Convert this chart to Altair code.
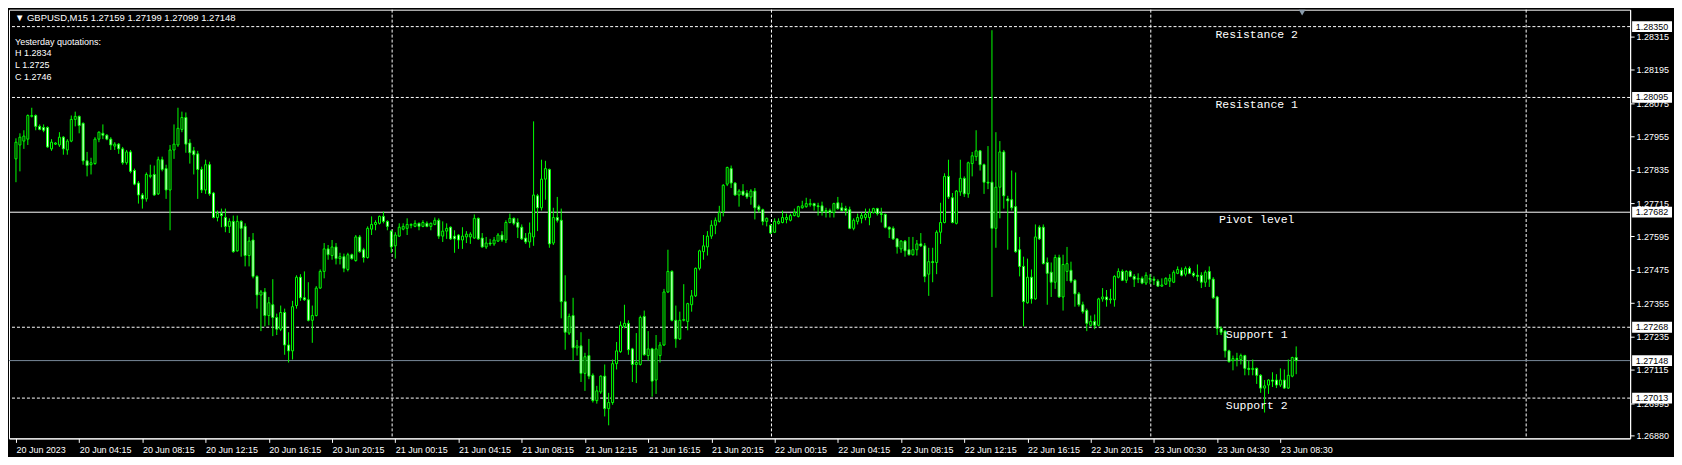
import json
import altair as alt
import pandas as pd

# ---------------- data (GBPUSD M15 candles) ----------------
OPEN = [
    1.27874, 1.27924, 1.27938, 1.27945, 1.28027, 1.28030, 1.27991, 1.27987, 1.27987, 1.27910,
    1.27927, 1.27924, 1.27952, 1.27906, 1.27938, 1.28016, 1.28027, 1.28002, 1.27867, 1.27853,
    1.27857, 1.27945, 1.27966, 1.27959, 1.27945, 1.27920, 1.27927, 1.27910, 1.27860, 1.27899,
    1.27832, 1.27787, 1.27744, 1.27730, 1.27811, 1.27818, 1.27748, 1.27871, 1.27839, 1.27762,
    1.27906, 1.27924, 1.27980, 1.28023, 1.27931, 1.27903, 1.27892, 1.27836, 1.27762, 1.27853,
    1.27751, 1.27663, 1.27677, 1.27663, 1.27631, 1.27649, 1.27543, 1.27649, 1.27631, 1.27526,
    1.27582, 1.27451, 1.27384, 1.27395, 1.27310, 1.27349, 1.27303, 1.27261, 1.27321, 1.27204,
    1.27183, 1.27346, 1.27448, 1.27374, 1.27367, 1.27293, 1.27310, 1.27409, 1.27469, 1.27550,
    1.27526, 1.27557, 1.27515, 1.27522, 1.27476, 1.27529, 1.27508, 1.27593, 1.27547, 1.27519,
    1.27621, 1.27638, 1.27642, 1.27667, 1.27649, 1.27614, 1.27561, 1.27596, 1.27621, 1.27624,
    1.27635, 1.27631, 1.27642, 1.27631, 1.27642, 1.27631, 1.27638, 1.27653, 1.27596, 1.27614,
    1.27628, 1.27596, 1.27600, 1.27582, 1.27593, 1.27593, 1.27589, 1.27660, 1.27589, 1.27557,
    1.27571, 1.27568, 1.27578, 1.27600, 1.27582, 1.27645, 1.27660, 1.27645, 1.27628, 1.27589,
    1.27575, 1.27593, 1.27741, 1.27698, 1.27801, 1.27836, 1.27571, 1.27663, 1.27653, 1.27360,
    1.27247, 1.27310, 1.27194, 1.27201, 1.27102, 1.27166, 1.27095, 1.27004, 1.27035, 1.27092,
    1.26975, 1.26997, 1.27137, 1.27180, 1.27271, 1.27282, 1.27190, 1.27134, 1.27134, 1.27307,
    1.27166, 1.27190, 1.27078, 1.27166, 1.27204, 1.27395, 1.27469, 1.27293, 1.27226, 1.27293,
    1.27289, 1.27349, 1.27381, 1.27480, 1.27540, 1.27557, 1.27596, 1.27635, 1.27649, 1.27684,
    1.27783, 1.27839, 1.27787, 1.27744, 1.27758, 1.27751, 1.27737, 1.27758, 1.27702, 1.27691,
    1.27649, 1.27635, 1.27610, 1.27642, 1.27645, 1.27656, 1.27653, 1.27670, 1.27667, 1.27698,
    1.27702, 1.27709, 1.27713, 1.27705, 1.27705, 1.27684, 1.27688, 1.27681, 1.27716, 1.27698,
    1.27695, 1.27691, 1.27624, 1.27649, 1.27660, 1.27663, 1.27663, 1.27681, 1.27695, 1.27677,
    1.27674, 1.27628, 1.27624, 1.27586, 1.27550, 1.27578, 1.27547, 1.27529, 1.27547, 1.27568,
    1.27561, 1.27459, 1.27504, 1.27501, 1.27610, 1.27645, 1.27811, 1.27734, 1.27642, 1.27755,
    1.27804, 1.27748, 1.27857, 1.27882, 1.27903, 1.27853, 1.27790, 1.27790, 1.27624, 1.27772,
    1.27899, 1.27730, 1.27727, 1.27702, 1.27547, 1.27487, 1.27356, 1.27448, 1.27370, 1.27628,
    1.27628, 1.27501, 1.27466, 1.27430, 1.27519, 1.27377, 1.27469, 1.27473, 1.27437, 1.27388,
    1.27349, 1.27328, 1.27275, 1.27289, 1.27275, 1.27370, 1.27377, 1.27367, 1.27367, 1.27448,
    1.27469, 1.27437, 1.27469, 1.27451, 1.27441, 1.27444, 1.27427, 1.27444, 1.27441, 1.27434,
    1.27416, 1.27423, 1.27434, 1.27430, 1.27462, 1.27473, 1.27459, 1.27480, 1.27462, 1.27455,
    1.27455, 1.27430, 1.27469, 1.27441, 1.27377, 1.27264, 1.27254, 1.27183, 1.27148, 1.27155,
    1.27152, 1.27166, 1.27120, 1.27116, 1.27120, 1.27095, 1.27049, 1.27060, 1.27078, 1.27078,
    1.27060, 1.27078, 1.27049, 1.27092, 1.27159,
]
HIGH = [
    1.27948, 1.27966, 1.27977, 1.28034, 1.28058, 1.28034, 1.27998, 1.27998, 1.27991, 1.27945,
    1.27934, 1.27970, 1.27956, 1.27945, 1.28030, 1.28044, 1.28030, 1.28005, 1.27899, 1.27878,
    1.27952, 1.27973, 1.27998, 1.27963, 1.27952, 1.27934, 1.27931, 1.27917, 1.27906, 1.27906,
    1.27839, 1.27794, 1.27751, 1.27825, 1.27853, 1.27850, 1.27882, 1.27882, 1.27853, 1.27924,
    1.27998, 1.28058, 1.28044, 1.28041, 1.27945, 1.27917, 1.27903, 1.27846, 1.27871, 1.27864,
    1.27755, 1.27688, 1.27695, 1.27695, 1.27660, 1.27670, 1.27670, 1.27653, 1.27642, 1.27593,
    1.27607, 1.27455, 1.27402, 1.27409, 1.27377, 1.27441, 1.27317, 1.27346, 1.27335, 1.27250,
    1.27363, 1.27455, 1.27459, 1.27469, 1.27430, 1.27346, 1.27416, 1.27476, 1.27571, 1.27564,
    1.27582, 1.27571, 1.27536, 1.27533, 1.27536, 1.27533, 1.27600, 1.27600, 1.27554, 1.27631,
    1.27667, 1.27653, 1.27670, 1.27684, 1.27653, 1.27617, 1.27610, 1.27642, 1.27642, 1.27660,
    1.27642, 1.27653, 1.27645, 1.27653, 1.27649, 1.27645, 1.27663, 1.27660, 1.27649, 1.27642,
    1.27631, 1.27617, 1.27603, 1.27628, 1.27614, 1.27610, 1.27674, 1.27663, 1.27607, 1.27593,
    1.27586, 1.27593, 1.27607, 1.27614, 1.27653, 1.27677, 1.27663, 1.27660, 1.27638, 1.27607,
    1.27645, 1.28009, 1.27748, 1.27871, 1.27867, 1.27839, 1.27698, 1.27737, 1.27695, 1.27455,
    1.27317, 1.27374, 1.27222, 1.27250, 1.27176, 1.27226, 1.27102, 1.27057, 1.27095, 1.27134,
    1.27032, 1.27152, 1.27215, 1.27289, 1.27349, 1.27293, 1.27194, 1.27247, 1.27310, 1.27328,
    1.27254, 1.27194, 1.27240, 1.27215, 1.27406, 1.27547, 1.27473, 1.27346, 1.27324, 1.27423,
    1.27356, 1.27402, 1.27483, 1.27547, 1.27600, 1.27614, 1.27653, 1.27663, 1.27705, 1.27783,
    1.27846, 1.27850, 1.27790, 1.27765, 1.27783, 1.27762, 1.27765, 1.27769, 1.27709, 1.27695,
    1.27663, 1.27638, 1.27660, 1.27660, 1.27688, 1.27677, 1.27677, 1.27695, 1.27705, 1.27723,
    1.27734, 1.27730, 1.27716, 1.27716, 1.27720, 1.27698, 1.27695, 1.27716, 1.27737, 1.27716,
    1.27705, 1.27702, 1.27660, 1.27677, 1.27681, 1.27695, 1.27695, 1.27698, 1.27698, 1.27698,
    1.27677, 1.27631, 1.27631, 1.27589, 1.27582, 1.27582, 1.27593, 1.27593, 1.27582, 1.27607,
    1.27571, 1.27554, 1.27554, 1.27617, 1.27716, 1.27822, 1.27871, 1.27751, 1.27762, 1.27871,
    1.27811, 1.27864, 1.27899, 1.27977, 1.27906, 1.27857, 1.27920, 1.28337, 1.27970, 1.27938,
    1.27906, 1.27741, 1.27832, 1.27825, 1.27593, 1.27522, 1.27515, 1.27476, 1.27638, 1.27635,
    1.27638, 1.27519, 1.27501, 1.27529, 1.27529, 1.27529, 1.27557, 1.27504, 1.27441, 1.27395,
    1.27360, 1.27335, 1.27310, 1.27314, 1.27374, 1.27409, 1.27402, 1.27406, 1.27455, 1.27480,
    1.27476, 1.27473, 1.27473, 1.27459, 1.27462, 1.27451, 1.27466, 1.27459, 1.27451, 1.27441,
    1.27444, 1.27448, 1.27459, 1.27473, 1.27487, 1.27483, 1.27487, 1.27487, 1.27469, 1.27494,
    1.27466, 1.27473, 1.27487, 1.27448, 1.27381, 1.27271, 1.27257, 1.27187, 1.27166, 1.27176,
    1.27173, 1.27169, 1.27148, 1.27152, 1.27123, 1.27099, 1.27078, 1.27081, 1.27106, 1.27099,
    1.27120, 1.27116, 1.27152, 1.27162, 1.27199,
]
LOW = [
    1.27790, 1.27829, 1.27910, 1.27924, 1.28023, 1.27977, 1.27977, 1.27970, 1.27913, 1.27903,
    1.27924, 1.27917, 1.27889, 1.27889, 1.27934, 1.27991, 1.27966, 1.27853, 1.27811, 1.27818,
    1.27853, 1.27934, 1.27945, 1.27941, 1.27906, 1.27906, 1.27892, 1.27853, 1.27853, 1.27822,
    1.27779, 1.27713, 1.27695, 1.27720, 1.27804, 1.27741, 1.27744, 1.27829, 1.27730, 1.27617,
    1.27874, 1.27917, 1.27970, 1.27896, 1.27857, 1.27818, 1.27730, 1.27751, 1.27748, 1.27741,
    1.27660, 1.27649, 1.27628, 1.27610, 1.27607, 1.27536, 1.27540, 1.27522, 1.27487, 1.27487,
    1.27444, 1.27335, 1.27254, 1.27271, 1.27275, 1.27236, 1.27240, 1.27254, 1.27169, 1.27141,
    1.27152, 1.27335, 1.27363, 1.27363, 1.27289, 1.27212, 1.27307, 1.27406, 1.27444, 1.27511,
    1.27511, 1.27494, 1.27494, 1.27466, 1.27469, 1.27511, 1.27504, 1.27536, 1.27501, 1.27515,
    1.27600, 1.27617, 1.27638, 1.27642, 1.27617, 1.27536, 1.27515, 1.27593, 1.27617, 1.27600,
    1.27624, 1.27628, 1.27617, 1.27628, 1.27628, 1.27617, 1.27635, 1.27586, 1.27575, 1.27586,
    1.27582, 1.27536, 1.27550, 1.27550, 1.27571, 1.27568, 1.27586, 1.27582, 1.27554, 1.27550,
    1.27561, 1.27561, 1.27575, 1.27575, 1.27571, 1.27642, 1.27635, 1.27589, 1.27582, 1.27568,
    1.27554, 1.27561, 1.27614, 1.27688, 1.27727, 1.27554, 1.27564, 1.27645, 1.27300, 1.27187,
    1.27240, 1.27148, 1.27166, 1.27071, 1.27039, 1.27081, 1.26997, 1.26993, 1.27028, 1.26947,
    1.26915, 1.26989, 1.27116, 1.27176, 1.27264, 1.27169, 1.27071, 1.27067, 1.27130, 1.27166,
    1.27148, 1.27018, 1.27028, 1.27141, 1.27201, 1.27391, 1.27289, 1.27194, 1.27222, 1.27289,
    1.27257, 1.27324, 1.27377, 1.27473, 1.27511, 1.27526, 1.27586, 1.27603, 1.27645, 1.27667,
    1.27776, 1.27769, 1.27741, 1.27702, 1.27741, 1.27730, 1.27709, 1.27656, 1.27681, 1.27635,
    1.27631, 1.27603, 1.27607, 1.27638, 1.27642, 1.27642, 1.27649, 1.27667, 1.27663, 1.27695,
    1.27698, 1.27702, 1.27688, 1.27670, 1.27670, 1.27663, 1.27663, 1.27663, 1.27691, 1.27684,
    1.27670, 1.27621, 1.27617, 1.27638, 1.27642, 1.27653, 1.27635, 1.27677, 1.27670, 1.27645,
    1.27624, 1.27589, 1.27582, 1.27533, 1.27536, 1.27522, 1.27526, 1.27526, 1.27526, 1.27557,
    1.27430, 1.27381, 1.27430, 1.27459, 1.27568, 1.27642, 1.27730, 1.27642, 1.27638, 1.27741,
    1.27737, 1.27734, 1.27811, 1.27867, 1.27832, 1.27748, 1.27765, 1.27377, 1.27554, 1.27660,
    1.27695, 1.27547, 1.27688, 1.27536, 1.27451, 1.27271, 1.27353, 1.27353, 1.27367, 1.27582,
    1.27494, 1.27349, 1.27377, 1.27406, 1.27374, 1.27328, 1.27434, 1.27427, 1.27342, 1.27342,
    1.27317, 1.27254, 1.27271, 1.27261, 1.27271, 1.27360, 1.27342, 1.27353, 1.27342, 1.27444,
    1.27434, 1.27427, 1.27448, 1.27413, 1.27427, 1.27423, 1.27420, 1.27423, 1.27420, 1.27413,
    1.27413, 1.27420, 1.27413, 1.27427, 1.27459, 1.27451, 1.27451, 1.27459, 1.27448, 1.27434,
    1.27409, 1.27413, 1.27413, 1.27370, 1.27240, 1.27240, 1.27159, 1.27141, 1.27113, 1.27127,
    1.27134, 1.27095, 1.27095, 1.27095, 1.27064, 1.27032, 1.26961, 1.27028, 1.27053, 1.27049,
    1.27053, 1.27046, 1.27046, 1.27088, 1.27099,
]
CLOSE = [
    1.27934, 1.27952, 1.27956, 1.28030, 1.28030, 1.27991, 1.27980, 1.27977, 1.27917, 1.27934,
    1.27931, 1.27952, 1.27910, 1.27938, 1.28016, 1.28027, 1.27994, 1.27867, 1.27850, 1.27860,
    1.27945, 1.27970, 1.27959, 1.27945, 1.27924, 1.27927, 1.27910, 1.27860, 1.27899, 1.27829,
    1.27783, 1.27744, 1.27730, 1.27818, 1.27815, 1.27744, 1.27871, 1.27836, 1.27762, 1.27906,
    1.27927, 1.27984, 1.28023, 1.27927, 1.27896, 1.27889, 1.27836, 1.27762, 1.27853, 1.27748,
    1.27663, 1.27677, 1.27670, 1.27631, 1.27649, 1.27540, 1.27649, 1.27624, 1.27526, 1.27578,
    1.27451, 1.27384, 1.27395, 1.27310, 1.27356, 1.27303, 1.27261, 1.27321, 1.27204, 1.27183,
    1.27342, 1.27448, 1.27374, 1.27367, 1.27293, 1.27310, 1.27409, 1.27469, 1.27550, 1.27529,
    1.27557, 1.27515, 1.27522, 1.27480, 1.27529, 1.27515, 1.27593, 1.27540, 1.27519, 1.27624,
    1.27638, 1.27645, 1.27667, 1.27649, 1.27631, 1.27557, 1.27600, 1.27628, 1.27631, 1.27638,
    1.27638, 1.27642, 1.27631, 1.27645, 1.27631, 1.27642, 1.27653, 1.27596, 1.27614, 1.27624,
    1.27586, 1.27586, 1.27582, 1.27596, 1.27603, 1.27603, 1.27660, 1.27586, 1.27557, 1.27571,
    1.27568, 1.27582, 1.27600, 1.27582, 1.27645, 1.27660, 1.27642, 1.27628, 1.27586, 1.27575,
    1.27607, 1.27744, 1.27698, 1.27801, 1.27839, 1.27568, 1.27663, 1.27653, 1.27360, 1.27250,
    1.27307, 1.27194, 1.27201, 1.27102, 1.27162, 1.27092, 1.27004, 1.27039, 1.27092, 1.26975,
    1.26997, 1.27137, 1.27183, 1.27275, 1.27282, 1.27187, 1.27134, 1.27141, 1.27303, 1.27169,
    1.27190, 1.27074, 1.27190, 1.27204, 1.27395, 1.27469, 1.27293, 1.27226, 1.27293, 1.27296,
    1.27353, 1.27381, 1.27480, 1.27543, 1.27561, 1.27596, 1.27635, 1.27653, 1.27681, 1.27779,
    1.27843, 1.27787, 1.27744, 1.27758, 1.27744, 1.27737, 1.27758, 1.27698, 1.27691, 1.27649,
    1.27660, 1.27607, 1.27649, 1.27649, 1.27663, 1.27663, 1.27670, 1.27681, 1.27702, 1.27705,
    1.27713, 1.27713, 1.27705, 1.27702, 1.27684, 1.27688, 1.27681, 1.27713, 1.27695, 1.27688,
    1.27688, 1.27624, 1.27653, 1.27663, 1.27670, 1.27674, 1.27681, 1.27695, 1.27677, 1.27674,
    1.27628, 1.27621, 1.27586, 1.27557, 1.27578, 1.27543, 1.27529, 1.27547, 1.27568, 1.27561,
    1.27451, 1.27504, 1.27501, 1.27610, 1.27645, 1.27811, 1.27737, 1.27645, 1.27758, 1.27804,
    1.27748, 1.27860, 1.27885, 1.27903, 1.27853, 1.27790, 1.27787, 1.27624, 1.27772, 1.27899,
    1.27741, 1.27723, 1.27698, 1.27540, 1.27487, 1.27360, 1.27448, 1.27370, 1.27593, 1.27586,
    1.27497, 1.27462, 1.27430, 1.27519, 1.27377, 1.27494, 1.27497, 1.27434, 1.27388, 1.27349,
    1.27324, 1.27282, 1.27289, 1.27275, 1.27370, 1.27377, 1.27367, 1.27370, 1.27451, 1.27469,
    1.27437, 1.27469, 1.27451, 1.27441, 1.27444, 1.27427, 1.27455, 1.27441, 1.27437, 1.27416,
    1.27420, 1.27444, 1.27444, 1.27466, 1.27476, 1.27455, 1.27480, 1.27462, 1.27455, 1.27451,
    1.27430, 1.27466, 1.27441, 1.27374, 1.27264, 1.27250, 1.27183, 1.27144, 1.27155, 1.27152,
    1.27166, 1.27120, 1.27116, 1.27120, 1.27095, 1.27049, 1.27057, 1.27078, 1.27074, 1.27060,
    1.27078, 1.27049, 1.27095, 1.27159, 1.27148,
]

# time axis: bar index of each label and the label text
TICK_BARS = [0, 16, 32, 48, 64, 80, 96, 112, 128, 144, 160, 176, 192, 208, 224, 240,
             256, 272, 288, 304, 320]
TICK_LABELS = ["20 Jun 2023", "20 Jun 04:15", "20 Jun 08:15", "20 Jun 12:15", "20 Jun 16:15",
               "20 Jun 20:15", "21 Jun 00:15", "21 Jun 04:15", "21 Jun 08:15", "21 Jun 12:15",
               "21 Jun 16:15", "21 Jun 20:15", "22 Jun 00:15", "22 Jun 04:15", "22 Jun 08:15",
               "22 Jun 12:15", "22 Jun 16:15", "22 Jun 20:15", "23 Jun 00:30", "23 Jun 04:30",
               "23 Jun 08:30"]
DAY_SEPARATORS = [95.2, 191.2, 287.2, 382.2]

# price axis labels
PRICE_TICKS = [1.28315, 1.28195, 1.28075, 1.27955, 1.27835, 1.27715, 1.27595, 1.27475,
               1.27355, 1.27235, 1.27115, 1.26995, 1.26880]

# pivot levels
LEVEL_NAMES = ["Resistance 2", "Resistance 1", "Pivot level", "Support 1", "Support 2"]
LEVEL_PRICES = [1.28350, 1.28095, 1.27682, 1.27268, 1.27013]
LEVEL_DASHED = [True, True, False, True, True]
LEVEL_LABEL_BAR = 314
BID = 1.27148
SHIFT_BAR = 325.5

HEADER = "▼ GBPUSD,M15  1.27159 1.27199 1.27099 1.27148"
INFO_LINES = ["Yesterday quotations:", "H 1.2834", "L 1.2725", "C 1.2746"]

X_DOMAIN = [-0.5, 407.25]
Y_DOMAIN = [1.26868, 1.28411]

# ---------------- build ----------------
assert len(OPEN) == len(HIGH) == len(LOW) == len(CLOSE)

W, H = 1626, 430
LIME = "#00ff00"
FONT = "Liberation Sans"

candles = pd.DataFrame({
    "bar": list(range(len(OPEN))),
    "open": OPEN, "high": HIGH, "low": LOW, "close": CLOSE,
})
candles["body"] = ["white" if c < o else "black" for o, c in zip(OPEN, CLOSE)]

levels = pd.DataFrame({
    "name": LEVEL_NAMES, "price": LEVEL_PRICES, "dashed": LEVEL_DASHED,
    "bar": [LEVEL_LABEL_BAR] * len(LEVEL_NAMES),
})
boxes = pd.DataFrame({"price": LEVEL_PRICES + [BID]})
seps = pd.DataFrame({"bar": DAY_SEPARATORS})

xscale = alt.Scale(domain=X_DOMAIN, nice=False, zero=False)
yscale = alt.Scale(domain=Y_DOMAIN, nice=False, zero=False)

label_expr = f"{json.dumps(TICK_LABELS)}[indexof({json.dumps(TICK_BARS)}, datum.value)]"

X_AXIS = alt.Axis(values=TICK_BARS, labelExpr=label_expr, orient="bottom", labelAlign="left",
                  labelBaseline="top", labelPadding=3, labelFlush=False, labelOverlap=False,
                  labelBound=False, tickSize=4, title=None)
Y_AXIS = alt.Axis(values=PRICE_TICKS, format=".5f", orient="right", labelAlign="left",
                  labelBaseline="middle", labelPadding=2, labelFlush=False, labelOverlap=False,
                  tickSize=4, title=None)


def xe(field="bar"):
    return alt.X(f"{field}:Q", scale=xscale, axis=X_AXIS, title=None)


def ye(field):
    return alt.Y(f"{field}:Q", scale=yscale, axis=Y_AXIS, title=None)


seps_layer = alt.Chart(seps).mark_rule(color="white", strokeDash=[3, 2], strokeWidth=1).encode(
    x=xe())

dashed = alt.Chart(levels).transform_filter("datum.dashed").mark_rule(
    color="white", strokeDash=[3, 2], strokeWidth=1).encode(y=ye("price"))
solid = alt.Chart(levels).transform_filter("!datum.dashed").mark_rule(
    color="white", strokeWidth=1).encode(y=ye("price"))
bid = alt.Chart(pd.DataFrame({"price": [BID]})).mark_rule(color="#778899", strokeWidth=1).encode(
    y=ye("price"))

wicks = alt.Chart(candles).mark_rule(color=LIME, strokeWidth=1).encode(
    x=xe(), y=ye("low"), y2="high:Q")
bodies = alt.Chart(candles).mark_bar(size=2, stroke=LIME, strokeWidth=1).encode(
    x=xe(), y=ye("open"), y2="close:Q", fill=alt.Fill("body:N", scale=None))

level_text = alt.Chart(levels).mark_text(
    font="Liberation Mono", fontSize=11.5, color="white", align="center", baseline="top", dy=2
).encode(x=xe(), y=ye("price"), text="name:N")

RECT = "M-1,-0.27L1,-0.27L1,0.27L-1,0.27Z"
box_bg = alt.Chart(boxes).mark_point(shape=RECT, filled=True, fill="white", opacity=1,
                                     strokeWidth=0, size=1600).encode(
    x=alt.value(W + 22), y=ye("price"))
box_txt = alt.Chart(boxes).mark_text(font=FONT, fontSize=9, color="black", align="center",
                                     baseline="middle").encode(
    x=alt.value(W + 22), y=ye("price"), text=alt.Text("price:Q", format=".5f"))

shift = alt.Chart(pd.DataFrame({"bar": [SHIFT_BAR]})).mark_point(
    shape="triangle-down", filled=True, color="#8a9bab", size=45, opacity=1).encode(
    x=xe(), y=alt.value(3))

header = alt.Chart(pd.DataFrame({"t": [HEADER]})).mark_text(
    font=FONT, fontSize=9.5, color="white", align="left", baseline="middle").encode(
    x=alt.value(6), y=alt.value(8), text="t:N")
info = alt.Chart(pd.DataFrame({"t": [0]})).mark_text(
    font=FONT, fontSize=9, color="white", align="left", baseline="top", lineHeight=11.7).encode(
    x=alt.value(6), y=alt.value(28), text=alt.value(INFO_LINES))

chart = alt.layer(
    seps_layer, dashed, solid, bid, wicks, bodies, level_text, box_bg, box_txt, shift, header, info
).properties(
    width=W, height=H, background="black",
    padding={"left": 0, "top": 0, "right": 2, "bottom": 2},
).configure_view(
    stroke="white", strokeWidth=1, fill="black"
).configure_axis(
    domainColor="white", tickColor="white", labelColor="white", labelFont=FONT,
    labelFontSize=9, grid=False, domainWidth=1, tickWidth=1,
)

chart.save("out.html", embed_options={"renderer": "svg", "actions": False})
